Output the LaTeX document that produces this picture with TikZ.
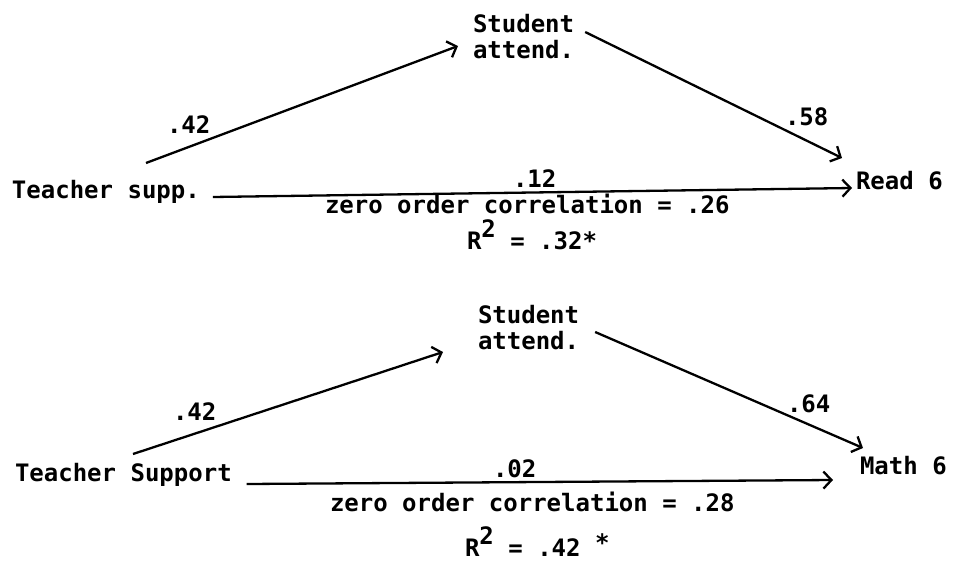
\documentclass[tikz,border=0pt]{standalone}
\usepackage{fontspec}
\setmainfont{DejaVu Sans Mono}
\usetikzlibrary{arrows.meta}
\begin{document}
\begin{tikzpicture}[x=1pt,y=-1pt,
  txt/.style={inner sep=0pt, outer sep=0pt, font=\fontsize{24}{26}\selectfont\bfseries, text=black},
  conn/.style={line width=2.3pt, draw=black, -{Straight Barb[length=8pt,width=17pt,line width=2.3pt]}}]
\useasboundingbox (0,0) rectangle (961,562);
\fill[white] (0,0) rectangle (961,562);
% ---------- top diagram ----------
\node[txt, anchor=base west] (ts1) at (12,198) {Teacher supp.};
\node[txt, anchor=west, align=left] (sa1) at (473,37) {Student\\attend.};
\node[txt, anchor=base west] (r1) at (856,189) {Read 6};
\node[txt, anchor=base west] (l42a) at (167,133) {.42};
\node[txt, anchor=base west] (l58) at (785,125) {.58};
\node[txt, anchor=base west] (l12) at (513,187) {.12};
\node[txt, anchor=base west] (z1) at (325,213) {zero order correlation = .26};
\node[txt, anchor=base west] (rs1) at (467,249) {R\raisebox{12pt}{2}\hspace{0.6em}= .32*};
\draw[conn] ([shift={(134,-35)}]ts1.base west) -- ([shift={(-15,9)}]sa1.west);
\draw[conn] ([shift={(11,-5)}]sa1.east) -- ([shift={(-14,-31)}]r1.base west);
\draw[conn] ([shift={(13,-1)}]ts1.base east) -- ([shift={(-4,-1)}]r1.base west);
% ---------- bottom diagram ----------
\node[txt, anchor=base west] (ts2) at (15,481) {Teacher Support};
\node[txt, anchor=west, align=left] (sa2) at (478,328) {Student\\attend.};
\node[txt, anchor=base west] (m2) at (860,474) {Math 6};
\node[txt, anchor=base west] (l42b) at (173,420) {.42};
\node[txt, anchor=base west] (l64) at (787,412) {.64};
\node[txt, anchor=base west] (l02) at (493,477) {.02};
\node[txt, anchor=base west] (z2) at (330,511) {zero order correlation = .28};
\node[txt, anchor=base west] (rs2) at (465,556) {R\raisebox{12pt}{2} = .42\raisebox{5pt}{ *}};
\draw[conn] ([shift={(118,-27)}]ts2.base west) -- ([shift={(-35,24)}]sa2.west);
\draw[conn] ([shift={(16,4)}]sa2.east) -- ([shift={(3,-26)}]m2.base west);
\draw[conn] ([shift={(15,3)}]ts2.base east) -- ([shift={(-27,6)}]m2.base west);
\end{tikzpicture}
\end{document}
